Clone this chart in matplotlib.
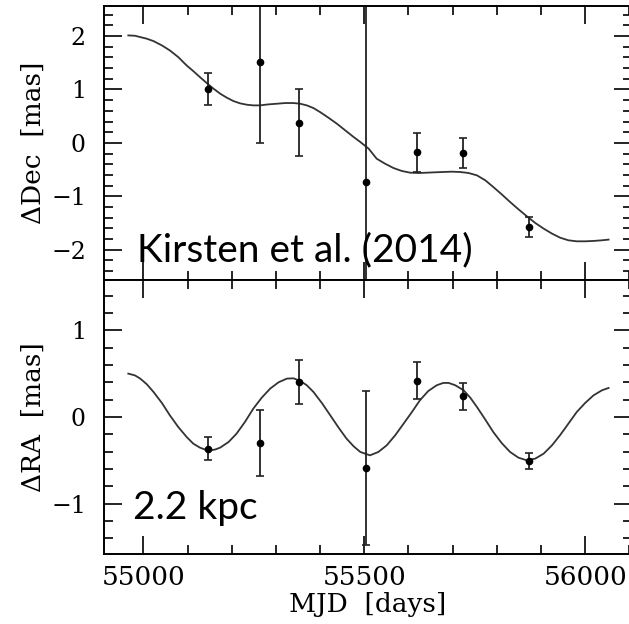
import matplotlib
matplotlib.use("Agg")
import matplotlib.pyplot as plt
from matplotlib.ticker import MultipleLocator

mjd = [55147, 55263, 55353, 55504, 55620, 55724, 55872]
dec = [1.00, 1.52, 0.38, -0.73, -0.18, -0.19, -1.58]
dec_err = [0.30, 1.52, 0.62, 3.5, 0.37, 0.29, 0.19]
ra = [-0.365, -0.295, 0.40, -0.59, 0.42, 0.24, -0.51]
ra_err = [0.135, 0.38, 0.255, 0.885, 0.21, 0.155, 0.095]

# best-fit model curves
dec_model_mjd = [54966, 54981, 54993, 55008, 55023, 55042, 55060, 55079, 55098,
                 55113, 55128, 55147, 55159, 55174, 55189, 55204, 55219, 55234,
                 55249, 55264, 55283, 55302, 55321, 55340, 55355, 55370, 55385,
                 55400, 55419, 55438, 55457, 55476, 55491, 55510, 55528, 55547,
                 55566, 55585, 55604, 55623, 55642, 55660, 55679, 55698, 55717,
                 55736, 55755, 55774, 55792, 55811, 55830, 55849, 55868, 55887,
                 55906, 55925, 55943, 55962, 55981, 56000, 56019, 56038, 56053]
dec_model = [2.013, 2.007, 1.982, 1.951, 1.907, 1.826, 1.732, 1.607, 1.451,
             1.345, 1.233, 1.096, 1.014, 0.921, 0.846, 0.783, 0.740, 0.715,
             0.702, 0.702, 0.721, 0.733, 0.746, 0.746, 0.733, 0.702, 0.652,
             0.577, 0.471, 0.359, 0.234, 0.109, 0.016, -0.109, -0.296, -0.390,
             -0.471, -0.527, -0.559, -0.565, -0.559, -0.552, -0.546, -0.540, -0.546,
             -0.565, -0.609, -0.702, -0.827, -0.964, -1.108, -1.245, -1.376, -1.501,
             -1.607, -1.701, -1.776, -1.826, -1.845, -1.845, -1.838, -1.826, -1.813]

ra_model_mjd = [54966, 54981, 54993, 55008, 55023, 55042, 55060, 55079, 55098,
                55113, 55128, 55140, 55151, 55162, 55174, 55193, 55211, 55230,
                55249, 55268, 55287, 55306, 55325, 55340, 55355, 55370, 55385,
                55404, 55423, 55442, 55460, 55476, 55491, 55513, 55532, 55551,
                55570, 55589, 55608, 55626, 55645, 55664, 55679, 55691, 55706,
                55725, 55740, 55755, 55774, 55792, 55811, 55830, 55849, 55868,
                55887, 55906, 55925, 55943, 55962, 55981, 56000, 56019, 56038,
                56053]
ra_model = [0.500, 0.480, 0.443, 0.377, 0.289, 0.162, 0.020, -0.115, -0.230,
            -0.307, -0.353, -0.376, -0.384, -0.376, -0.353, -0.288, -0.192, -0.057,
            0.097, 0.223, 0.327, 0.400, 0.443, 0.446, 0.416, 0.366, 0.289,
            0.162, 0.020, -0.123, -0.250, -0.338, -0.403, -0.442, -0.403, -0.326,
            -0.211, -0.077, 0.058, 0.193, 0.300, 0.366, 0.393, 0.393, 0.366,
            0.308, 0.223, 0.116, -0.030, -0.173, -0.300, -0.403, -0.469, -0.500,
            -0.480, -0.423, -0.326, -0.211, -0.077, 0.058, 0.162, 0.250, 0.308,
            0.335]

plt.rcParams['font.family'] = ['DejaVu Serif']
plt.rcParams['axes.linewidth'] = 1.4

fig = plt.figure(figsize=(6.29, 6.24), dpi=100)
W, H = 629.0, 624.0
left = 104 / W
width = (632 - 104) / W
ax1 = fig.add_axes([left, 1 - 280 / H, width, 274.3 / H])
ax2 = fig.add_axes([left, 1 - 554 / H, width, 274 / H])

line_col = '#333333'
for ax, mx, my, y, yerr in [(ax1, dec_model_mjd, dec_model, dec, dec_err),
                            (ax2, ra_model_mjd, ra_model, ra, ra_err)]:
    ax.plot(mx, my, color=line_col, lw=1.3)
    ax.errorbar(mjd, y, yerr=yerr, fmt='o', color='black', ms=4.5,
                ecolor='#222222', elinewidth=1.3, capsize=3, capthick=1.2)
    ax.set_xlim(54911, 56106)
    ax.xaxis.set_major_locator(MultipleLocator(500))
    ax.xaxis.set_minor_locator(MultipleLocator(100))
    ax.yaxis.set_major_locator(MultipleLocator(1))
    ax.yaxis.set_minor_locator(MultipleLocator(0.2))
    ax.tick_params(which='both', direction='in', top=True, right=True,
                   width=1.2)
    ax.tick_params(which='major', length=13)
    ax.tick_params(which='minor', length=6.5)
    ax.tick_params(axis='y', pad=13, labelsize=17)
    ax.tick_params(axis='x', pad=8, labelsize=19)

ax1.set_ylim(-2.57, 2.57)
ax2.set_ylim(-1.58, 1.58)
ax1.tick_params(labelbottom=False)

ax1.set_ylabel('ΔDec  [mas]', fontsize=19)
ax2.set_ylabel('ΔRA  [mas]', fontsize=19)
ax1.yaxis.set_label_coords(-0.11, 0.5)
ax2.yaxis.set_label_coords(-0.11, 0.5)
ax2.set_xlabel('MJD  [days]', fontsize=19)
ax2.xaxis.set_label_coords(0.5, -0.14)

ax1.text(0.063, 0.069, 'Kirsten et al. (2014)', transform=ax1.transAxes,
         fontsize=28, family='Lato', va='baseline', ha='left')
ax2.text(0.055, 0.128, '2.2 kpc', transform=ax2.transAxes,
         fontsize=28, family='Lato', va='baseline', ha='left')

fig.savefig('out.png', dpi=100)
